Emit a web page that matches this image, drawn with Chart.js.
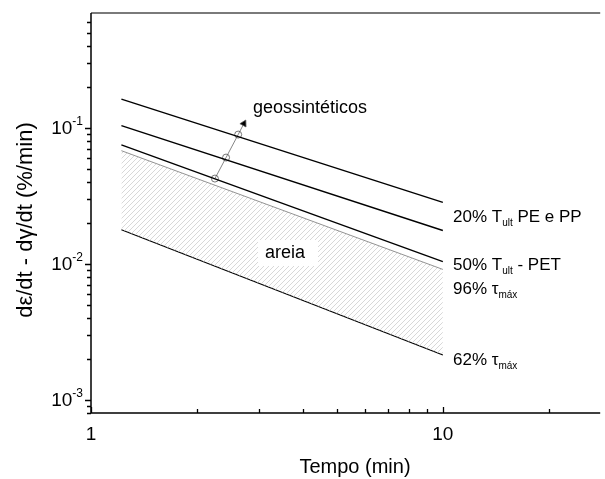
<!DOCTYPE html>
<html>
<head>
<meta charset="utf-8">
<script src="https://cdn.jsdelivr.net/npm/chart.js@4/dist/chart.umd.min.js"></script>
<style>
html, body { margin: 0; padding: 0; background: #fff; }
#chart { display: block; }
</style>
</head>
<body>
<canvas id="chart" width="605" height="479"></canvas>
<script>
// tempo (min) at the two ends of every line
const times = [1.22, 10];
// strain rate lines (%/min)
const geoTop = [0.163, 0.0283];
const geoMid = [0.104, 0.0176];
const geoLow = [0.075, 0.0104];
const sand96 = [0.068, 0.0091];
const sand62 = [0.0178, 0.00214];
// arrow across the geosynthetic lines
const arrowX = [2.25, 2.42, 2.62, 2.72];
const arrowY = [0.0424, 0.0605, 0.0893, 0.1076];
// tick labels
const xTickLabels = ['1', '10'];
const xTickValues = [1, 10];
const yTickValues = [0.001, 0.01, 0.1];
const yTickExps = ['-3', '-2', '-1'];

const FONT = '"Liberation Sans", Arial, sans-serif';

function pts(ys) {
    return times.map((t, i) => ({ x: t, y: ys[i] }));
}

function makeHatch() {
    const c = document.createElement('canvas');
    c.width = 5; c.height = 5;
    const p = c.getContext('2d');
    p.strokeStyle = '#bdbdbd';
    p.lineWidth = 0.6;
    p.beginPath();
    p.moveTo(-1, 6); p.lineTo(6, -1);
    p.moveTo(-1, 1); p.lineTo(1, -1);
    p.moveTo(4, 6); p.lineTo(6, 4);
    p.stroke();
    return document.getElementById('chart').getContext('2d').createPattern(c, 'repeat');
}

// text with sub/superscript parts
function rich(ctx, parts, x, y) {
    let cx = x;
    parts.forEach(p => {
        ctx.font = p.size + 'px ' + FONT;
        ctx.fillText(p.t, cx, y + (p.dy || 0));
        cx += ctx.measureText(p.t).width;
    });
    return cx - x;
}

function richWidth(ctx, parts) {
    let w = 0;
    parts.forEach(p => {
        ctx.font = p.size + 'px ' + FONT;
        w += ctx.measureText(p.t).width;
    });
    return w;
}

const decoPlugin = {
    id: 'deco',
    afterDatasetsDraw(chart) {
        const ctx = chart.ctx;
        ctx.save();
        ctx.fillStyle = '#000';
        ctx.textBaseline = 'middle';
        ctx.textAlign = 'left';

        // areia label with white box
        ctx.fillStyle = '#fff';
        ctx.fillRect(258, 240, 60, 26);
        ctx.fillStyle = '#000';
        ctx.font = '18px ' + FONT;
        ctx.fillText('areia', 265, 253);

        ctx.fillText('geossintéticos', 253, 108);

        rich(ctx, [{ t: '20% T', size: 17 }, { t: 'ult', size: 10, dy: 6 }, { t: ' PE e PP', size: 17 }], 453, 217);
        rich(ctx, [{ t: '50% T', size: 17 }, { t: 'ult', size: 10, dy: 6 }, { t: ' - PET', size: 17 }], 453, 265);
        rich(ctx, [{ t: '96% τ', size: 17 }, { t: 'máx', size: 10, dy: 6 }], 453, 289);
        rich(ctx, [{ t: '62% τ', size: 17 }, { t: 'máx', size: 10, dy: 6 }], 453, 360);
        ctx.restore();
    },
    afterDraw(chart) {
        const ctx = chart.ctx, a = chart.chartArea;
        const xs = chart.scales.x, ys = chart.scales.y;
        ctx.save();

        // frame
        ctx.strokeStyle = '#7a7a7a';
        ctx.lineWidth = 2;
        ctx.beginPath();
        ctx.moveTo(a.left, a.top); ctx.lineTo(a.right, a.top);
        ctx.stroke();
        ctx.strokeStyle = '#000';
        ctx.lineWidth = 1.5;
        ctx.beginPath();
        ctx.moveTo(a.left, a.top); ctx.lineTo(a.left, a.bottom); ctx.lineTo(a.right, a.bottom);
        ctx.stroke();

        // y ticks, outward
        ctx.lineWidth = 1.3;
        ctx.beginPath();
        for (let d = 0.0001; d < 1; d *= 10) {
            for (let m = 1; m < 10; m++) {
                const v = d * m;
                if (v < ys.min || v > ys.max) continue;
                const py = Math.round(ys.getPixelForValue(v)) + 0.5;
                const len = m === 1 ? 6 : 4;
                ctx.moveTo(a.left, py); ctx.lineTo(a.left - len, py);
            }
        }
        // x ticks, inward
        for (let d = 1; d < 100; d *= 10) {
            for (let m = 1; m < 10; m++) {
                const v = d * m;
                if (v < xs.min || v > xs.max) continue;
                const px = Math.round(xs.getPixelForValue(v)) + 0.5;
                const len = m === 1 ? 6 : 4;
                ctx.moveTo(px, a.bottom); ctx.lineTo(px, a.bottom - len);
            }
        }
        ctx.stroke();

        // tick labels
        ctx.fillStyle = '#000';
        ctx.textBaseline = 'middle';
        ctx.textAlign = 'center';
        ctx.font = '19px ' + FONT;
        xTickValues.forEach((v, i) => {
            ctx.fillText(xTickLabels[i], xs.getPixelForValue(v), 435);
        });
        ctx.textAlign = 'left';
        yTickValues.forEach((v, i) => {
            const py = ys.getPixelForValue(v);
            const parts = [{ t: '10', size: 19, dy: 1 }, { t: yTickExps[i], size: 12, dy: -6 }];
            const w = richWidth(ctx, parts);
            rich(ctx, parts, a.left - 8 - w, py);
        });

        // axis titles
        ctx.textAlign = 'center';
        ctx.font = '20px ' + FONT;
        ctx.fillText('Tempo (min)', 355, 467);
        ctx.save();
        ctx.translate(26, 220);
        ctx.rotate(-Math.PI / 2);
        ctx.font = '22px ' + FONT;
        ctx.fillText('dε/dt - dγ/dt (%/min)', 0, 0);
        ctx.restore();

        ctx.restore();
    }
};

const lineStyle = { borderColor: '#000', borderWidth: 1.4, pointRadius: 0, fill: false, tension: 0 };

new Chart(document.getElementById('chart').getContext('2d'), {
    type: 'line',
    data: {
        datasets: [
            Object.assign({ data: pts(geoTop) }, lineStyle),
            Object.assign({ data: pts(geoMid) }, lineStyle),
            Object.assign({ data: pts(geoLow) }, lineStyle),
            {
                data: pts(sand96), borderColor: '#777', borderWidth: 0.8, pointRadius: 0,
                fill: '+1', backgroundColor: makeHatch()
            },
            Object.assign({ data: pts(sand62) }, lineStyle, { borderWidth: 1.1 }),
            {
                data: arrowX.map((x, i) => ({ x, y: arrowY[i] })),
                borderColor: '#666', borderWidth: 0.8, fill: false,
                pointStyle: ['circle', 'circle', 'circle', 'triangle'],
                pointRadius: [3.5, 3.5, 3.5, 4],
                pointRotation: [0, 0, 0, 28],
                pointBorderColor: '#555',
                pointBorderWidth: 0.8,
                pointBackgroundColor: ['rgba(0,0,0,0)', 'rgba(0,0,0,0)', 'rgba(0,0,0,0)', '#000']
            }
        ]
    },
    options: {
        responsive: false,
        animation: false,
        events: [],
        layout: { padding: { left: 91, top: 13, right: 0, bottom: 66 } },
        plugins: { legend: { display: false }, tooltip: { enabled: false } },
        scales: {
            x: { type: 'logarithmic', min: 1, max: 28, display: false },
            y: { type: 'logarithmic', min: 0.0008, max: 0.7, display: false }
        }
    },
    plugins: [decoPlugin]
});
</script>
</body>
</html>
